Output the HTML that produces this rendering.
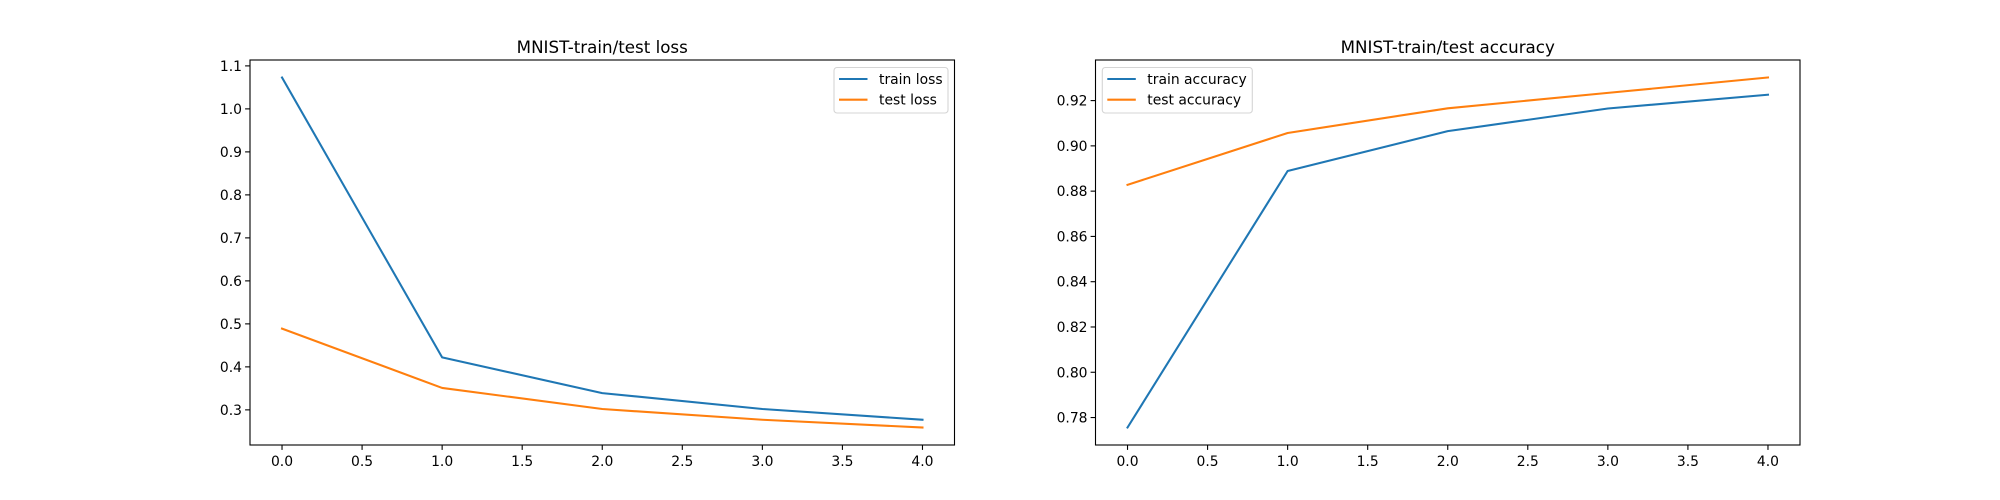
<!DOCTYPE html>
<html><head><meta charset="utf-8"><style>
html,body{margin:0;padding:0;background:#fff;}
svg{display:block;font-family:"DejaVu Sans","Liberation Sans",sans-serif;}
</style></head><body>
<svg id="fig" width="2000" height="500" viewBox="0 0 2000 500" xmlns="http://www.w3.org/2000/svg"></svg>
<script>
const epochs = [0, 1, 2, 3, 4];
const trainLoss = [1.073, 0.422, 0.339, 0.302, 0.277];
const testLoss = [0.489, 0.351, 0.302, 0.277, 0.259];
const trainAcc = [0.7756, 0.8889, 0.9065, 0.9165, 0.9226];
const testAcc = [0.8828, 0.9057, 0.9166, 0.9234, 0.9302];
const xTicks = [0, 0.5, 1, 1.5, 2, 2.5, 3, 3.5, 4];
const xTickLabels = ["0.0","0.5","1.0","1.5","2.0","2.5","3.0","3.5","4.0"];
const lossTicks = [0.3,0.4,0.5,0.6,0.7,0.8,0.9,1.0,1.1];
const lossTickLabels = ["0.3","0.4","0.5","0.6","0.7","0.8","0.9","1.0","1.1"];
const accTicks = [0.78,0.80,0.82,0.84,0.86,0.88,0.90,0.92];
const accTickLabels = ["0.78","0.80","0.82","0.84","0.86","0.88","0.90","0.92"];

const NS = "http://www.w3.org/2000/svg";
const svg = document.getElementById("fig");
function mk(tag, attrs, parent){
  const e = document.createElementNS(NS, tag);
  for (const k in attrs) e.setAttribute(k, attrs[k]);
  (parent||svg).appendChild(e);
  return e;
}
function panel(key, left, title, s1, s2, n1, n2, yTicks, yLabels, legendLeft){
  const top = 60, bottom = 445, width = 704.5, right = left + width;
  const g = mk("g", {});
  
  
  const all = s1.concat(s2);
  const mn = Math.min(...all), mx = Math.max(...all), pad = (mx - mn) * 0.05;
  const y0 = mn - pad, y1 = mx + pad;
  const xMin = -0.2, xMax = 4.2;
  const X = v => left + (v - xMin) / (xMax - xMin) * width;
  const Y = v => bottom - (v - y0) / (y1 - y0) * (bottom - top);
  // series
  [[s1, "#1f77b4", n1], [s2, "#ff7f0e", n2]].forEach(([s, c, n]) => {
    const p = mk("polyline", {points: epochs.map((e, i) => X(e) + "," + Y(s[i])).join(" "), fill: "none", stroke: c, "stroke-width": 2.08, "stroke-linejoin": "round", "stroke-linecap": "square"}, g);
    
    
  });
  // frame
  const fr = mk("rect", {x: left, y: top, width: width, height: bottom - top, fill: "none", stroke: "#000", "stroke-width": 1.1}, g);
  
  
  // x ticks
  xTicks.forEach((t, i) => {
    const x = X(t);
    mk("line", {x1: x, x2: x, y1: bottom, y2: bottom + 4.9, stroke: "#000", "stroke-width": 1.1}, g);
    const tx = mk("text", {x: x, y: bottom + 21, "font-size": 13.9, "text-anchor": "middle", fill: "#000"}, g);
    tx.textContent = xTickLabels[i];
    
    
  });
  // y ticks
  yTicks.forEach((t, i) => {
    const y = Y(t);
    mk("line", {x1: left - 4.9, x2: left, y1: y, y2: y, stroke: "#000", "stroke-width": 1.1}, g);
    const tx = mk("text", {x: left - 8, y: y + 5, "font-size": 13.9, "text-anchor": "end", fill: "#000"}, g);
    tx.textContent = yLabels[i];
    
    
  });
  // title
  const tt = mk("text", {x: left + width / 2, y: 53, "font-size": 16.7, "text-anchor": "middle", fill: "#000"}, g);
  tt.textContent = title;
  
  
  // legend
  const lw = key === "loss" ? 114 : 150;
  const lg = mk("g", {}, g);
  
  
  mk("rect", {x: legendLeft, y: 67.5, width: lw, height: 45.5, rx: 3, fill: "#fff", "fill-opacity": 0.8, stroke: "#d5d5d5", "stroke-width": 1.1}, lg);
  [[n1, "#1f77b4", 79], [n2, "#ff7f0e", 99.7]].forEach(([n, c, y]) => {
    mk("line", {x1: legendLeft + 5, x2: legendLeft + 33.5, y1: y, y2: y, stroke: c, "stroke-width": 2.08}, lg);
    const t = mk("text", {x: legendLeft + 45, y: y + 5, "font-size": 13.9, fill: "#000"}, lg);
    t.textContent = n;
    
    
  });
}
panel("loss", 250, "MNIST-train/test loss", trainLoss, testLoss, "train loss", "test loss", lossTicks, lossTickLabels, 834);
panel("accuracy", 1095.5, "MNIST-train/test accuracy", trainAcc, testAcc, "train accuracy", "test accuracy", accTicks, accTickLabels, 1102.3);
</script>
</body></html>
